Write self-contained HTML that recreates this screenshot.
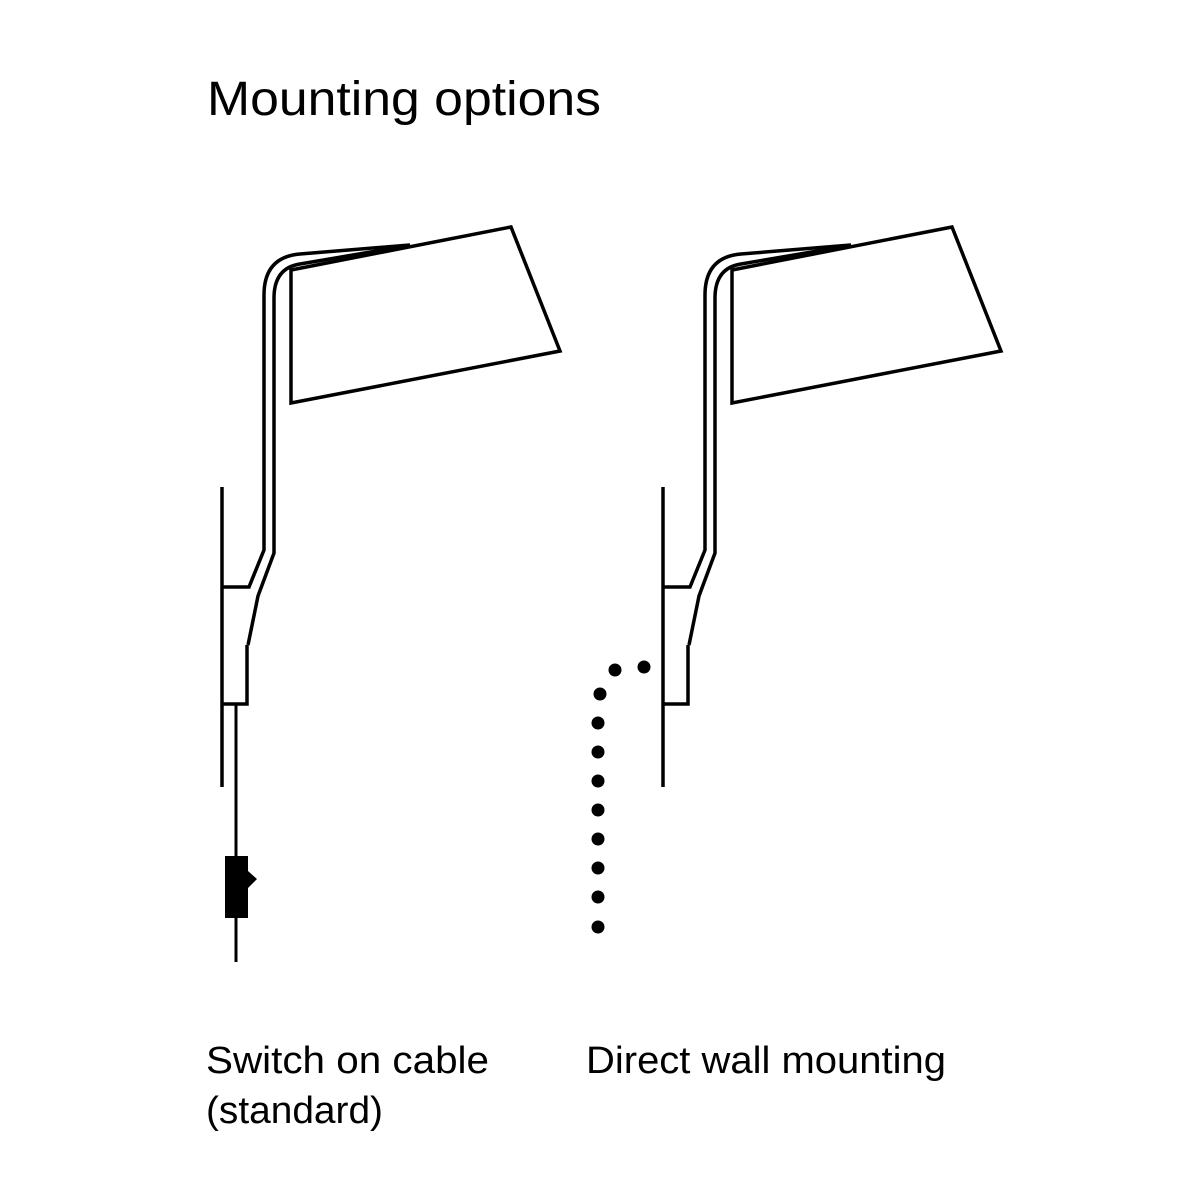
<!DOCTYPE html>
<html><head><meta charset="utf-8"><style>
html,body{margin:0;padding:0;background:#fff}
svg{display:block}
</style></head><body>
<svg width="1200" height="1200" viewBox="0 0 1200 1200" xmlns="http://www.w3.org/2000/svg">
<rect width="1200" height="1200" fill="#fff"/>
<text x="207" y="115" font-family="Liberation Sans, sans-serif" font-size="48" textLength="394" lengthAdjust="spacingAndGlyphs" fill="#000">Mounting options</text>
<g fill="none" stroke="#000" stroke-width="3.5" stroke-linejoin="miter">
  <g id="lamp">
    <line x1="222" y1="487" x2="222" y2="787"/>
    <polygon points="291,270 511,227 560,351 291,403"/>
    <path d="M410,245 L300,254 Q264,257 264,295 L264,550 L249,587 L222,587"/>
    <path d="M400,247 L300,264 Q274,268 274,298 L274,553 L258,596 L248,645"/>
    <path d="M247,645 L247,704 L222,704"/>
  </g>
  <use href="#lamp" transform="translate(441,0)"/>
  <line x1="236" y1="704" x2="236" y2="962" stroke-width="3"/>
</g>
<path d="M225,856 L248,856 L248,871 L257,879 L248,888 L248,918 L225,918 Z" fill="#000"/>
<g fill="#000">
  <circle cx="644" cy="667" r="6.5"/>
  <circle cx="615" cy="670" r="6.5"/>
  <circle cx="600" cy="694" r="6.5"/>
  <circle cx="598" cy="723" r="6.5"/>
  <circle cx="598" cy="752" r="6.5"/>
  <circle cx="598" cy="781" r="6.5"/>
  <circle cx="598" cy="810" r="6.5"/>
  <circle cx="598" cy="839" r="6.5"/>
  <circle cx="598" cy="868" r="6.5"/>
  <circle cx="598" cy="897" r="6.5"/>
  <circle cx="598" cy="927" r="6.5"/>
</g>
<g font-family="Liberation Sans, sans-serif" font-size="38" fill="#000">
  <text x="206" y="1073" textLength="283" lengthAdjust="spacingAndGlyphs">Switch on cable</text>
  <text x="206" y="1123" textLength="177" lengthAdjust="spacingAndGlyphs">(standard)</text>
  <text x="586" y="1073" textLength="360" lengthAdjust="spacingAndGlyphs">Direct wall mounting</text>
</g>
</svg>
</body></html>
